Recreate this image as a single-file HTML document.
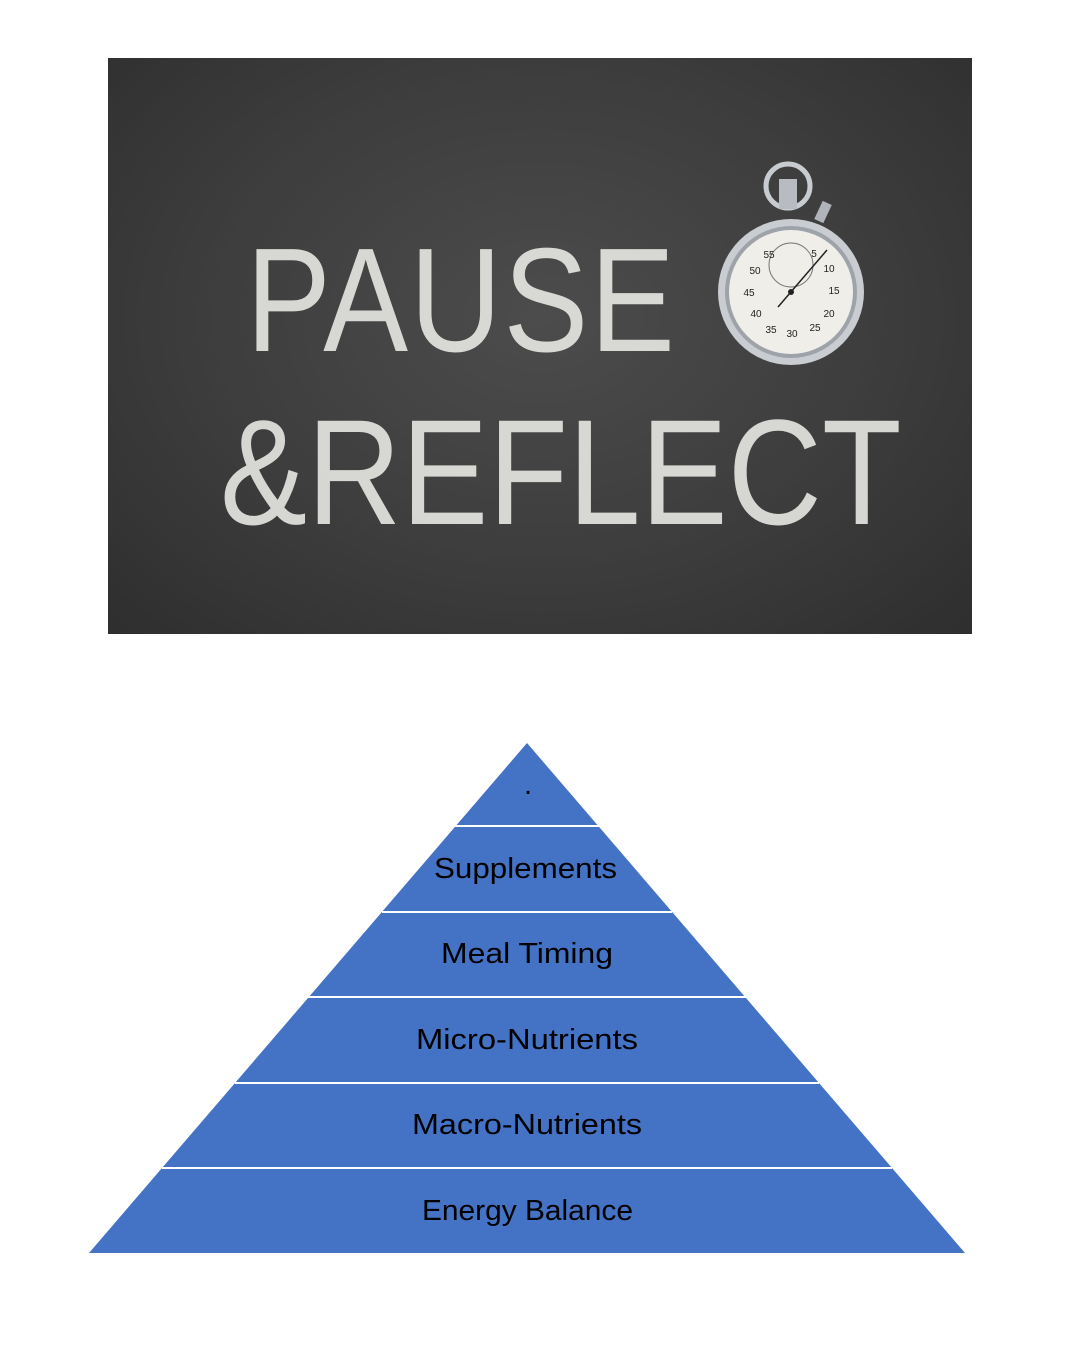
<!DOCTYPE html>
<html><head><style>
html,body{margin:0;padding:0;background:#fff;width:1080px;height:1350px;overflow:hidden}
.board{position:absolute;left:108px;top:58px;width:864px;height:576px;background:radial-gradient(ellipse at 50% 45%,#4c4c4c 0%,#3d3d3d 55%,#2e2e2e 100%);overflow:hidden}
.chalk{position:absolute;color:#ecece8;font-family:"Liberation Sans",sans-serif;font-weight:normal;white-space:nowrap;opacity:.88}
</style></head><body>
<div class="board">
<div class="chalk" style="left:138px;top:158px;font-size:148px;transform:scaleX(0.86);transform-origin:left top;letter-spacing:2px">PAUSE</div>
<div class="chalk" style="left:112px;top:328px;font-size:150px;transform:scaleX(0.87);transform-origin:left top;letter-spacing:0px">&amp;REFLECT</div>
</div>
<svg width="1080" height="1350" style="position:absolute;left:0;top:0">
 <circle cx="788" cy="186" r="22" fill="none" stroke="#c8cbd0" stroke-width="5"/>
 <rect x="779" y="179" width="18" height="30" fill="#b8bcc2"/>
 <rect x="818" y="202" width="10" height="20" fill="#b0b4ba" transform="rotate(25 823 212)"/>
 <circle cx="791" cy="292" r="73" fill="#c9ccd1"/>
 <circle cx="791" cy="292" r="66" fill="#9ea3aa"/>
 <circle cx="791" cy="292" r="62" fill="#efeee8"/>
 <circle cx="791" cy="265" r="22" fill="none" stroke="#777" stroke-width="1"/>
 <g font-family="Liberation Sans,sans-serif" font-size="10" fill="#222" text-anchor="middle">
  <text x="769" y="258">55</text><text x="755" y="274">50</text><text x="749" y="296">45</text><text x="756" y="317">40</text>
  <text x="771" y="333">35</text><text x="792" y="337">30</text><text x="815" y="331">25</text><text x="829" y="317">20</text>
  <text x="834" y="294">15</text><text x="829" y="272">10</text><text x="814" y="257">5</text>
 </g>
 <line x1="778" y1="307" x2="827" y2="250" stroke="#222" stroke-width="1.5"/>
 <circle cx="791" cy="292" r="3" fill="#222"/>
</svg>
<svg width="1080" height="1350" style="position:absolute;left:0;top:0">
 <polygon points="527,743 965,1253 89,1253" fill="#4472c4"/>
 <g stroke="#fff" stroke-width="2">
  <line x1="455" y1="826" x2="599" y2="826"/>
  <line x1="382" y1="912" x2="672" y2="912"/>
  <line x1="308" y1="997" x2="746" y2="997"/>
  <line x1="235" y1="1083" x2="819" y2="1083"/>
  <line x1="162" y1="1168" x2="892" y2="1168"/>
 </g>
 <g font-family="Liberation Sans,sans-serif" font-size="29" fill="#000">
  <text x="524" y="794">.</text>
  <text x="434" y="878" textLength="183" lengthAdjust="spacingAndGlyphs">Supplements</text>
  <text x="441" y="963" textLength="172" lengthAdjust="spacingAndGlyphs">Meal Timing</text>
  <text x="416" y="1049" textLength="222" lengthAdjust="spacingAndGlyphs">Micro-Nutrients</text>
  <text x="412" y="1134" textLength="230" lengthAdjust="spacingAndGlyphs">Macro-Nutrients</text>
  <text x="422" y="1220" textLength="211" lengthAdjust="spacingAndGlyphs">Energy Balance</text>
 </g>
</svg>
</body></html>
